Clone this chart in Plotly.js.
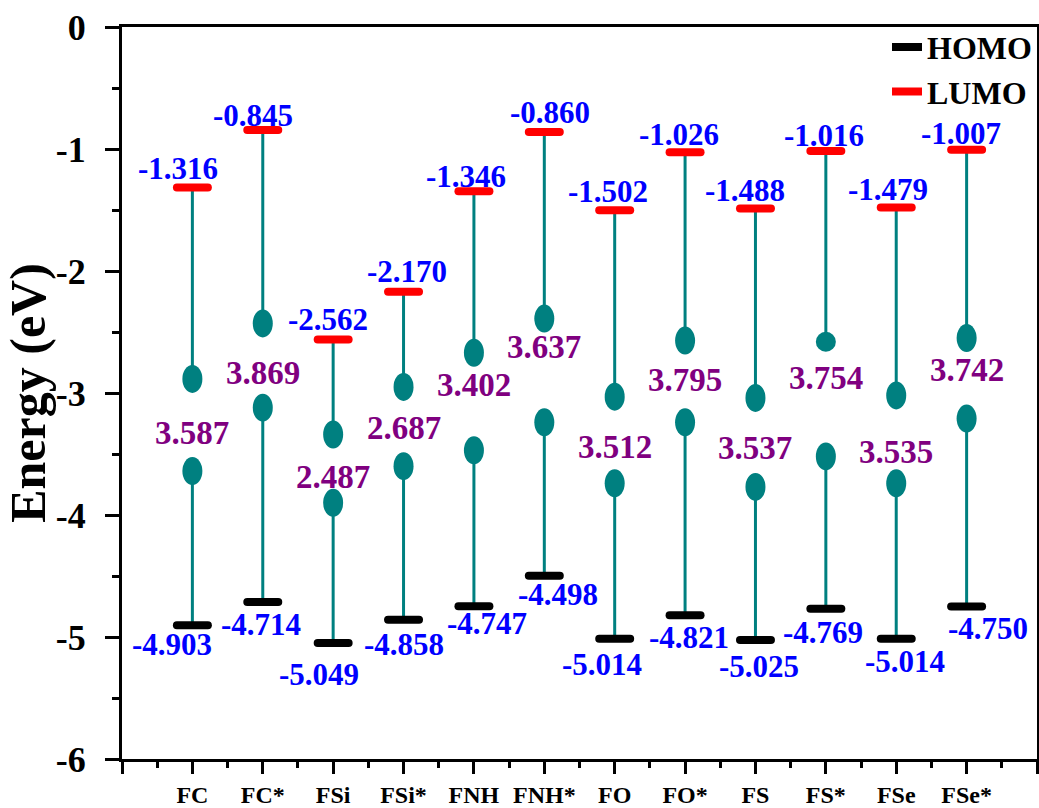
<!DOCTYPE html>
<html>
<head>
<meta charset="utf-8">
<script src="https://cdn.plot.ly/plotly-3.0.1.min.js"></script>
<style>
  html, body { margin: 0; padding: 0; background: #ffffff; }
  #chart { width: 1039px; height: 808px; }
</style>
</head>
<body>
<div id="chart"></div>
<script>
// ---------- data ----------
const categories = ['FC', 'FC*', 'FSi', 'FSi*', 'FNH', 'FNH*', 'FO', 'FO*', 'FS', 'FS*', 'FSe', 'FSe*'];
const lumo = [-1.316, -0.845, -2.562, -2.170, -1.346, -0.860, -1.502, -1.026, -1.488, -1.016, -1.479, -1.007];
const homo = [-4.903, -4.714, -5.049, -4.858, -4.747, -4.498, -5.014, -4.821, -5.025, -4.769, -5.014, -4.750];
const gap = [3.587, 3.869, 2.487, 2.687, 3.402, 3.637, 3.512, 3.795, 3.537, 3.754, 3.535, 3.742];
// energies where the arrow-like stems end (ellipse heads)
const upperTip = [-2.885, -2.43, -3.34, -2.95, -2.67, -2.39, -3.03, -2.57, -3.04, -2.58, -3.02, -2.55];
const lowerTip = [-3.64, -3.12, -3.90, -3.60, -3.47, -3.24, -3.74, -3.24, -3.77, -3.52, -3.74, -3.21];
const yTickVals = [-6, -5, -4, -3, -2, -1, 0];
const yTickText = ['-6', '-5', '-4', '-3', '-2', '-1', '0'];

// ---------- label placement (layout only) ----------
const gapLabelAt = [-3.328, -2.836, -3.689, -3.287, -2.934, -2.623, -3.443, -2.893, -3.451, -2.877, -3.484, -2.811];
const lumoDx = [-14, -10, -5, 3, -8, 6, -7, -6, -10, -2, -8, -6];
const lumoDy = [19, 15, 20, 20, 15, 19, 19, 18, 18, 15, 18, 16];
const homoDx = [-20, -2, -14, 0, 13, 14, -13, 4, 4, -3, 9, 21];
const homoDy = [19, 22, 32, 25, 17, 19, 26, 22, 26, 24, 23, 22];
const upperHeadH = [28, 28, 28, 28, 28, 28, 28, 28, 28, 20, 28, 28];

const TEAL = '#008080';
const FONT = 'Liberation Serif, Times New Roman, serif';
const xs = categories.map((c, i) => i + 1);
const HALF = 0.22; // half bar length in category units (round caps add the rest)

// stems
const sx = [], sy = [];
xs.forEach((x, i) => {
  sx.push(x, x, null, x, x, null);
  sy.push(lumo[i], upperTip[i], null, lowerTip[i], homo[i], null);
});
function levelTrace(vals, name, color) {
  const x = [], y = [];
  xs.forEach((xv, i) => { x.push(xv - HALF, xv + HALF, null); y.push(vals[i], vals[i], null); });
  return { type: 'scatter', mode: 'lines', x, y, name, line: { color, width: 8 }, hoverinfo: 'skip' };
}

const traces = [
  { type: 'scatter', mode: 'lines', x: sx, y: sy, line: { color: TEAL, width: 3 }, showlegend: false, hoverinfo: 'skip' },
  levelTrace(homo, 'HOMO', '#000000'),
  levelTrace(lumo, 'LUMO', '#ff0000')
];

const shapes = [];
xs.forEach((x, i) => {
  [[upperTip[i], upperHeadH[i]], [lowerTip[i], 28]].forEach(([y, h]) => {
    shapes.push({
      type: 'circle', xref: 'x', yref: 'y', xsizemode: 'pixel', ysizemode: 'pixel',
      xanchor: x, yanchor: y, x0: -10, x1: 10, y0: -h / 2, y1: h / 2,
      fillcolor: TEAL, line: { width: 0 }, layer: 'above'
    });
  });
});

const annotations = [];
xs.forEach((x, i) => {
  annotations.push({ x, y: lumo[i], xref: 'x', yref: 'y', text: lumo[i].toFixed(3), showarrow: false,
    xshift: lumoDx[i], yshift: lumoDy[i], font: { family: FONT, size: 31, color: '#0000ff', weight: 'bold' } });
  annotations.push({ x, y: homo[i], xref: 'x', yref: 'y', text: homo[i].toFixed(3), showarrow: false,
    xshift: homoDx[i], yshift: -homoDy[i], font: { family: FONT, size: 31, color: '#0000ff', weight: 'bold' } });
  annotations.push({ x, y: gapLabelAt[i], xref: 'x', yref: 'y', text: gap[i].toFixed(3), showarrow: false,
    font: { family: FONT, size: 33, color: '#800080', weight: 'bold' } });
});

const tickvals = [0].concat(xs, [13]);
const ticktext = [''].concat(categories, ['']);

const layout = {
  width: 1039, height: 808,
  margin: { l: 122, r: 2, t: 27, b: 49 },
  paper_bgcolor: '#ffffff', plot_bgcolor: '#ffffff',
  showlegend: true,
  legend: {
    x: 1, xanchor: 'right', y: 1.01, yanchor: 'top', bgcolor: 'rgba(0,0,0,0)',
    font: { family: FONT, size: 32, color: '#000000', weight: 'bold' }, itemwidth: 30
  },
  xaxis: {
    range: [0, 13], tickmode: 'array', tickvals, ticktext,
    ticks: 'outside', ticklen: 12, tickwidth: 3, tickcolor: '#000',
    showline: true, linewidth: 3, linecolor: '#000', mirror: true,
    showgrid: false, zeroline: false, ticklabelstandoff: 0,
    tickfont: { family: FONT, size: 24, color: '#000', weight: 'bold' },
    minor: { tickmode: 'linear', tick0: 0.5, dtick: 1, ticks: 'outside', ticklen: 6, tickwidth: 3, tickcolor: '#000', showgrid: false }
  },
  yaxis: {
    range: [-6, 0], tickmode: 'array', tickvals: yTickVals, ticktext: yTickText,
    ticks: 'outside', ticklen: 14, tickwidth: 3, tickcolor: '#000',
    showline: true, linewidth: 3, linecolor: '#000', mirror: true,
    showgrid: false, zeroline: false, ticklabelstandoff: 12,
    tickfont: { family: FONT, size: 36, color: '#000', weight: 'bold' },
    minor: { tickmode: 'linear', tick0: 0, dtick: 0.5, ticks: 'outside', ticklen: 7, tickwidth: 3, tickcolor: '#000', showgrid: false },
    title: { text: 'Energy (eV)', standoff: 6, font: { family: FONT, size: 50, color: '#000', weight: 'bold' } }
  },
  shapes, annotations
};

Plotly.newPlot('chart', traces, layout, { displayModeBar: false, staticPlot: true }).then(() => {
  document.querySelectorAll('#chart .scatterlayer path.js-line').forEach(p => { p.style.strokeLinecap = 'round'; });
});
</script>
</body>
</html>
